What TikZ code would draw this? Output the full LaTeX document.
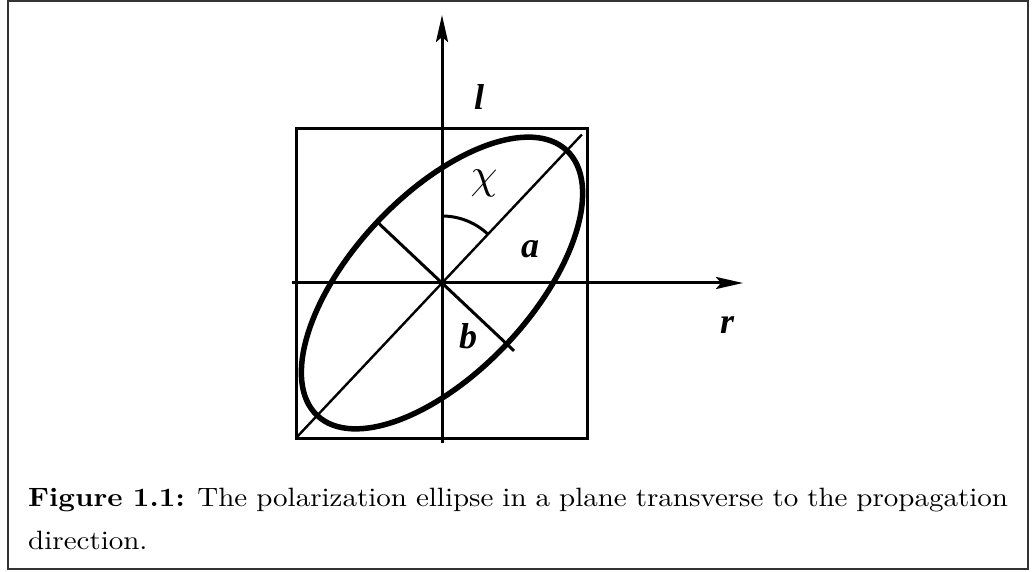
\documentclass[tikz,border=0pt]{standalone}
\usepackage{fontspec}
\setmainfont{Latin Modern Roman}
\newfontfamily\labfont{Liberation Serif}
\usetikzlibrary{arrows.meta}
\newcommand\capscale[1]{\scalebox{2.9}[2.65]{\fontsize{10pt}{12pt}\selectfont #1}}
\begin{document}
\begin{tikzpicture}[x=1pt,y=-1pt,
  axis/.style={line width=3pt,-{Stealth[length=27pt,width=12pt,inset=5pt]}},
  thin line/.style={line width=2.4pt},
  mid line/.style={line width=3pt},
  lab/.style={inner sep=0pt,font=\fontsize{36}{40}\selectfont\labfont\bfseries\itshape},
  captext/.style={inner sep=0pt,anchor=base west}]
\useasboundingbox (0,0) rectangle (1034,572);
\draw[line width=1.5pt,black!80] (8,1) rectangle (1028,569);
\coordinate (O) at (442,283);
% square
\draw[mid line] (296,129) rectangle (587,438);
\coordinate (SQ) at (296,438);
% axes
\coordinate (vb) at (442,443);
\coordinate (vt) at (442,15);
\coordinate (hl) at (292,283);
\coordinate (hr) at (743,283);
\draw[axis] (vb) -- (vt);
\draw[axis] (hl) -- (hr);
% diagonal (major axis)
\coordinate (dt) at ([shift={(46.7:204pt)}]O);
\draw[thin line] (SQ) -- (dt);
% minor axis
\coordinate (m1) at ([shift={(136.7:91pt)}]O);
\coordinate (m2) at ([shift={(-43.3:99pt)}]O);
\draw[mid line] (m1) -- (m2);
% ellipse
\draw[line width=5.5pt,rotate around={46.7:(O)}] (O) ellipse [x radius=182pt, y radius=89pt];
% angle chi
\draw[mid line] ([shift={(90:67pt)}]O) arc[start angle=90,end angle=46.7,radius=67pt];
% labels
\node[lab] (l) at (479,97) {l};
\node[inner sep=0pt] (chi) at (484,183) {\scalebox{4.3}{$\chi$}};
\node[lab] (a) at (530,249) {a};
\node[lab] (b) at (468,336) {b};
\node[lab] (r) at (727,325) {r};
% caption
\node[captext] (c1) at (28,506) {\capscale{\makebox[337.9pt][s]{\textbf{Figure 1.1:} The polarization ellipse in a plane transverse to the propagation}}};
\node[captext] (c2) at (28,549) {\capscale{direction.}};
\end{tikzpicture}
\end{document}
